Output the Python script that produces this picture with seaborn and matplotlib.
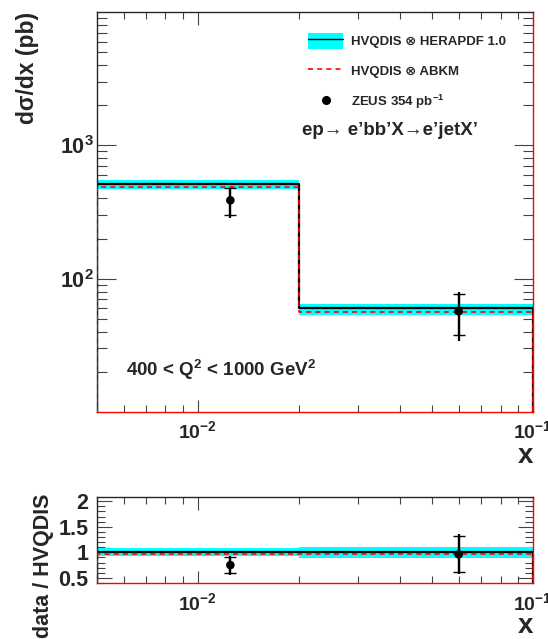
import numpy as np
import pandas as pd
import seaborn as sns
import matplotlib.pyplot as plt
from matplotlib.lines import Line2D
from matplotlib.patches import Patch
from matplotlib.ticker import LogLocator, NullFormatter, MultipleLocator, FixedLocator

# bin edges in x and data point positions
edges = [0.005, 0.02, 0.1]
x_data = [0.0125, 0.060]

# HVQDIS x HERAPDF 1.0 (central + band) and HVQDIS x ABKM, pb
hera = [509, 60.2]
hera_lo = [473, 53.3]
hera_hi = [548, 64.9]
abkm = [490, 56.5]

# ZEUS 354 pb-1
zeus = [387, 56.9]
zeus_stat_lo = [302, 37.8]
zeus_stat_hi = [479, 76.7]
zeus_tot_lo = [287, 34.0]
zeus_tot_hi = [482, 79.3]

# ratio to HVQDIS (HERAPDF)
ratio_hera = [1.0, 1.0]
ratio_band_lo = [0.92, 0.89]
ratio_band_hi = [1.08, 1.11]
ratio_abkm = [0.96, 0.96]
ratio_zeus = [0.75, 0.96]
ratio_stat_lo = [0.59, 0.61]
ratio_stat_hi = [0.91, 1.32]
ratio_tot_lo = [0.55, 0.57]
ratio_tot_hi = [0.93, 1.35]

sns.set_style("ticks")
plt.rcParams['font.family'] = ['Liberation Sans', 'DejaVu Sans']
plt.rcParams['font.weight'] = 'bold'
plt.rcParams['mathtext.fontset'] = 'custom'
plt.rcParams['mathtext.rm'] = 'Liberation Sans:bold'
plt.rcParams['mathtext.bf'] = 'Liberation Sans:bold'
plt.rcParams['axes.unicode_minus'] = False

CYAN = '#00ffff'
RED = '#ff0000'


def steps(vals, base):
    x = [edges[0]] + list(edges) + [edges[-1]]
    y = [base] + list(vals) + [vals[-1], base]
    return pd.DataFrame({"x": x, "y": y})


def log_label(v, pos):
    n = int(round(np.log10(v)))
    return r"$\mathdefault{10^{%d}}$" % n


def draw_panel(ax, central, lo, hi, alt, pts, slo, shi, tlo, thi, base):
    ax.fill_between(edges, list(lo) + [lo[-1]], list(hi) + [hi[-1]],
                    step='post', color=CYAN, lw=0, zorder=1)
    df = steps(central, base)
    sns.lineplot(data=df, x="x", y="y", sort=False, estimator=None,
                 drawstyle='steps-post', color='black', lw=1.6, ax=ax, zorder=2)
    df = steps(alt, base)
    sns.lineplot(data=df, x="x", y="y", sort=False, estimator=None,
                 drawstyle='steps-post', color=RED, lw=1.2, ax=ax, zorder=3,
                 linestyle=(0, (3, 2.5)))
    pts = np.array(pts)
    ax.errorbar(x_data, pts, yerr=[pts - np.array(tlo), np.array(thi) - pts],
                fmt='none', ecolor='black', elinewidth=1.6, zorder=4)
    ax.errorbar(x_data, pts, yerr=[pts - np.array(slo), np.array(shi) - pts],
                fmt='none', ecolor='black', elinewidth=1.6, capsize=4,
                capthick=1.0, zorder=4)
    sns.scatterplot(x=x_data, y=pts, color='black', s=38, edgecolor='none',
                    ax=ax, zorder=5)
    ax.set_xscale('log')
    ax.set_xlim(edges[0], edges[-1])
    ax.set_xlabel('')
    ax.set_ylabel('')
    ax.xaxis.set_major_locator(FixedLocator([0.01, 0.1]))
    ax.xaxis.set_major_formatter(plt.FuncFormatter(log_label))
    ax.xaxis.set_minor_locator(LogLocator(base=10, subs=np.arange(2, 10)))
    ax.xaxis.set_minor_formatter(NullFormatter())
    ax.tick_params(which='both', direction='in', top=True, right=True,
                   color='#444444', width=0.8)
    ax.tick_params(axis='x', which='major', length=9, pad=6, labelsize=14)
    ax.tick_params(axis='x', which='minor', length=5)
    ax.spines['right'].set_color(RED)
    ax.spines['bottom'].set_color(RED)
    for s in ax.spines.values():
        s.set_linewidth(1.0)


fig = plt.figure(figsize=(5.48, 6.39), dpi=100)
ax = fig.add_axes([0.177, 0.3552, 0.7956, 0.626])
axr = fig.add_axes([0.177, 0.0869, 0.7956, 0.1354])

draw_panel(ax, hera, hera_lo, hera_hi, abkm, zeus, zeus_stat_lo, zeus_stat_hi,
           zeus_tot_lo, zeus_tot_hi, base=10)
ax.set_yscale('log')
ax.set_ylim(10, 10000)
ax.yaxis.set_major_locator(FixedLocator([100, 1000]))
ax.yaxis.set_major_formatter(plt.FuncFormatter(log_label))
ax.yaxis.set_minor_locator(LogLocator(base=10, subs=np.arange(2, 10)))
ax.yaxis.set_minor_formatter(NullFormatter())
ax.tick_params(axis='y', which='major', length=14, pad=2, labelsize=15.5)
ax.tick_params(axis='y', which='minor', length=7)

draw_panel(axr, ratio_hera, ratio_band_lo, ratio_band_hi, ratio_abkm, ratio_zeus,
           ratio_stat_lo, ratio_stat_hi, ratio_tot_lo, ratio_tot_hi, base=0.39)
axr.set_ylim(0.39, 2.085)
axr.yaxis.set_major_locator(MultipleLocator(0.5))
axr.yaxis.set_minor_locator(MultipleLocator(0.1))
axr.yaxis.set_major_formatter(plt.FuncFormatter(lambda v, p: f"{v:g}"))
axr.tick_params(axis='y', which='major', length=11, pad=6, labelsize=15.5)
axr.tick_params(axis='y', which='minor', length=6)

handles = [(Patch(facecolor=CYAN, edgecolor='none'), Line2D([], [], color='black', lw=1)),
           Line2D([], [], color=RED, lw=1.2, linestyle=(0, (3, 2.5))),
           Line2D([], [], color='black', marker='o', ls='none', markersize=5.5)]
labels = ['HVQDIS \u2297 HERAPDF 1.0', 'HVQDIS \u2297 ABKM',
          r'ZEUS 354 pb$^{\mathdefault{-1}}$']
ax.legend(handles, labels, loc='upper left', bbox_to_anchor=(0.485, 0.948),
          frameon=False, fontsize=9.5, borderpad=0, borderaxespad=0,
          handlelength=2.65, handleheight=1.5, handletextpad=0.55,
          labelspacing=1.05)

ax.text(0.470, 0.705, 'ep\u2192 e\u2019bb\u2019X\u2192e\u2019jetX\u2019',
        transform=ax.transAxes, fontsize=13.5, va='center', ha='left')
ax.text(0.066, 0.105, r'400 < Q$^{\mathdefault{2}}$ < 1000 GeV$^{\mathdefault{2}}$',
        transform=ax.transAxes, fontsize=13.5, va='center', ha='left')

fig.text(0.051, 1 - 12 / 639, 'd\u03c3/dx (pb)', rotation=90, ha='center',
         va='top', fontsize=16.5)
fig.text(525 / 548, 1 - 456 / 639, 'x', ha='center', va='center', fontsize=20)
fig.text(525 / 548, 1 - 626 / 639, 'x', ha='center', va='center', fontsize=20)
fig.text(43 / 548, 1 - 566 / 639, 'data / HVQDIS', rotation=90, ha='center',
         va='center', fontsize=15.5)

fig.savefig('out.png', dpi=100)
